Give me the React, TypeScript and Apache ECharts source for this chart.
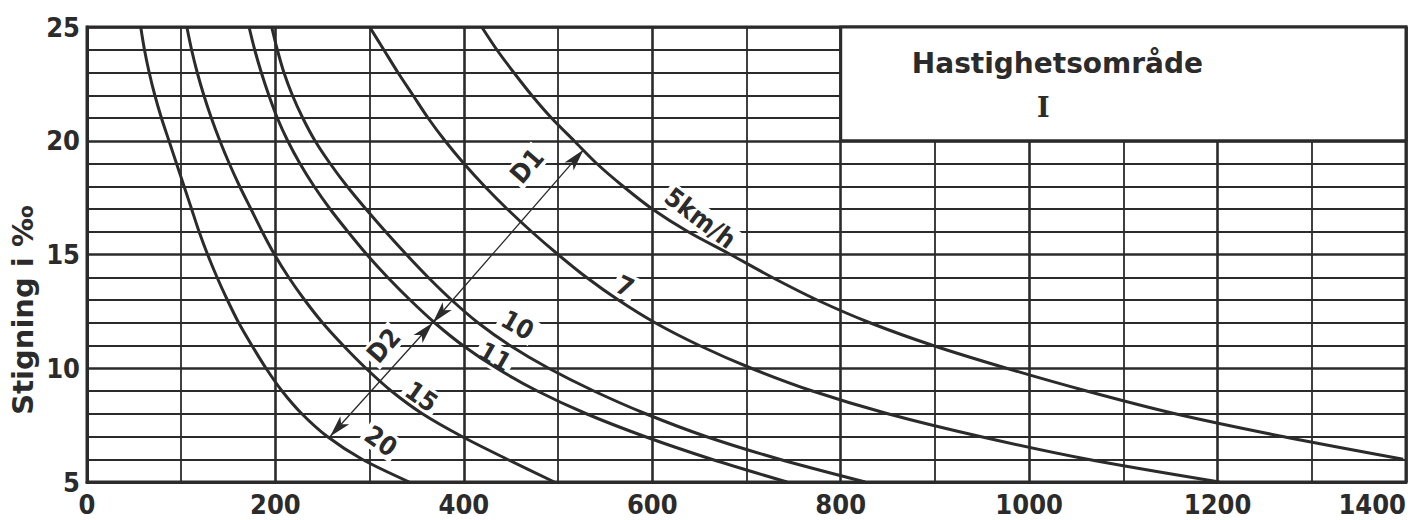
import React, { useEffect, useRef } from "react";
import * as echarts from "echarts";

// Gradient levels (‰) at which each curve's distance was read
const gradeLevels = [25, 24, 23, 22, 21, 20, 19, 18, 17, 16, 15, 14, 13, 12, 11, 10, 9, 8, 7, 6, 5];

// Distance values (x) for each speed curve, one per gradeLevel
const curve20 = [57, 61, 66, 72, 79, 87, 95, 103, 111, 119, 128, 138, 149, 161, 175, 190, 207, 228, 255, 292, 342];
const curve15 = [106, 111, 117, 124, 132, 141, 151, 162, 174, 186, 199, 214, 231, 250, 272, 296, 323, 356, 398, 446, 496];
const curve11 = [172, 178, 185, 193, 202, 213, 226, 241, 258, 277, 297, 319, 343, 369, 399, 435, 478, 530, 592, 663, 743];
const curve10 = [196, 202, 209, 218, 229, 242, 258, 276, 296, 317, 339, 362, 387, 415, 449, 490, 538, 593, 657, 735, 826];
const curve7 = [300, 315, 330, 346, 362, 380, 400, 422, 446, 472, 500, 530, 564, 603, 650, 705, 770, 850, 948, 1062, 1202];
const curve5 = [419, 435, 453, 472, 493, 517, 541, 569, 600, 638, 683, 727, 775, 831, 898, 976, 1061, 1155, 1269, 1397];

const curveNames = ["20", "15", "11", "10", "7", "5km/h"];
const curveValues = [curve20, curve15, curve11, curve10, curve7, curve5];

// Dimension arrows D2 (20 -> 11 curve) and D1 (11 -> 5 curve)
const d2Start = [258, 7.0];
const d2End = [367, 12.0];
const d1Start = [367, 12.0];
const d1End = [527, 19.6];

// Title box region
const boxFrom = [800, 25];
const boxTo = [1400, 20];
const boxTitle = "Hastighetsområde";
const boxSub = "I";
const yAxisTitle = "Stigning i ‰";

// Annotation labels (text, anchor in data coords, angle in degrees)
const annotations: { text: string; at: number[]; angle: number }[] = [
  { text: "20", at: [312, 6.8], angle: -35 },
  { text: "15", at: [355, 8.75], angle: -35 },
  { text: "11", at: [433, 10.5], angle: -30 },
  { text: "10", at: [457, 11.9], angle: -30 },
  { text: "7", at: [571, 13.6], angle: -25 },
  { text: "5km/h", at: [651, 16.6], angle: -37 },
  { text: "D1", at: [467, 18.9], angle: 49 },
  { text: "D2", at: [315, 11.0], angle: 49 },
];
const boxTitleAt = [1030, 23.4];
const boxSubAt = [1015, 21.45];

const ink = "#2b2b2b";
const numFont = '"DejaVu Sans Condensed", "DejaVu Sans", sans-serif';
const textFont = '"DejaVu Sans", sans-serif';

export default function App() {
  const ref = useRef<HTMLDivElement>(null);

  useEffect(() => {
    if (!ref.current) return;
    const chart = echarts.init(ref.current, null, { renderer: "svg" });

    const series: any[] = curveValues.map((xs, k) => ({
      name: curveNames[k],
      type: "line",
      symbol: "none",
      smooth: 0.3,
      silent: true,
      lineStyle: { color: ink, width: 3 },
      data: xs.map((x, i) => [x, gradeLevels[i]]),
    }));

    series[0].markArea = {
      silent: true,
      itemStyle: { color: "#ffffff", borderColor: ink, borderWidth: 3 },
      data: [[{ coord: boxFrom }, { coord: boxTo }]],
    };
    series[0].markLine = {
      silent: true,
      symbol: ["arrow", "arrow"],
      symbolSize: [9, 22],
      lineStyle: { color: ink, width: 1.3, type: "solid" },
      label: { show: false },
      data: [
        [{ coord: d2Start }, { coord: d2End }],
        [{ coord: d1Start }, { coord: d1End }],
      ],
    };

    chart.setOption({
      animation: false,
      backgroundColor: "#ffffff",
      grid: {
        left: 87,
        right: 5,
        top: 27,
        bottom: 38,
        show: true,
        borderColor: ink,
        borderWidth: 3,
        backgroundColor: "transparent",
      },
      xAxis: {
        type: "value",
        min: 0,
        max: 1400,
        interval: 200,
        axisLine: { show: true, lineStyle: { color: ink, width: 3 } },
        axisTick: { show: false },
        minorTick: { show: false, splitNumber: 2 },
        splitLine: { show: true, lineStyle: { color: ink, width: 2.6 } },
        minorSplitLine: { show: true, lineStyle: { color: ink, width: 1.8 } },
        axisLabel: {
          color: ink,
          fontSize: 27,
          fontWeight: "bold",
          fontFamily: numFont,
          margin: 9,
          alignMaxLabel: "right",
          formatter: (v: number) => String(v),
        },
      },
      yAxis: {
        type: "value",
        min: 5,
        max: 25,
        interval: 5,
        axisLine: { show: true, lineStyle: { color: ink, width: 3 } },
        axisTick: { show: false },
        minorTick: { show: false, splitNumber: 5 },
        splitLine: { show: true, lineStyle: { color: ink, width: 2.6 } },
        minorSplitLine: { show: true, lineStyle: { color: ink, width: 1.8 } },
        axisLabel: {
          color: ink,
          fontSize: 27,
          fontWeight: "bold",
          fontFamily: numFont,
          margin: 7,
          formatter: (v: number) => String(v),
        },
      },
      series,
    });

    const px = (p: number[]) => chart.convertToPixel({ gridIndex: 0 }, p) as number[];

    const graphic: any[] = annotations.map((a) => {
      const [x, y] = px(a.at);
      return {
        type: "text",
        x,
        y,
        z: 1,
        rotation: (a.angle * Math.PI) / 180,
        style: {
          text: a.text,
          font: `bold 26px ${numFont}`,
          fill: ink,
          align: "center",
          verticalAlign: "middle",
          backgroundColor: "#ffffff",
          padding: [0, 3],
        },
      };
    });
    const tp = px(boxTitleAt);
    const sp = px(boxSubAt);
    graphic.push(
      {
        type: "text",
        x: tp[0],
        y: tp[1],
        z: 10,
        style: {
          text: boxTitle,
          font: `bold 28px ${textFont}`,
          fill: ink,
          align: "center",
          verticalAlign: "middle",
        },
      },
      {
        type: "text",
        x: sp[0],
        y: sp[1],
        z: 10,
        style: {
          text: boxSub,
          font: `bold 27px "DejaVu Serif", serif`,
          fill: ink,
          align: "center",
          verticalAlign: "middle",
        },
      },
      {
        type: "text",
        x: 23,
        y: 310,
        z: 10,
        rotation: Math.PI / 2,
        style: {
          text: yAxisTitle,
          font: `bold 29px ${textFont}`,
          fill: ink,
          align: "center",
          verticalAlign: "middle",
        },
      }
    );
    chart.setOption({ graphic });

    return () => chart.dispose();
  }, []);

  return (
    <div
      ref={ref}
      style={{ position: "fixed", left: 0, top: 0, width: 1411, height: 520, background: "#fff" }}
    />
  );
}
